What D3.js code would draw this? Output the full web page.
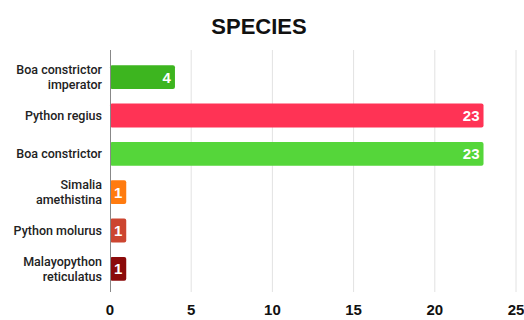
<!DOCTYPE html>
<html>
<head>
<meta charset="utf-8">
<script src="https://cdn.jsdelivr.net/npm/d3@7"></script>
<style>
	body { margin: 0; background: #fff; }
	svg { display: block; font-family: Roboto, 'Liberation Sans', sans-serif; }
</style>
</head>
<body>
<div id="chart"></div>
<script>
// Data
const categories = [
	'Boa constrictor imperator',
	'Python regius',
	'Boa constrictor',
	'Simalia amethistina',
	'Python molurus',
	'Malayopython reticulatus',
];
const labelLines = [
	['Boa constrictor', 'imperator'],
	['Python regius'],
	['Boa constrictor'],
	['Simalia', 'amethistina'],
	['Python molurus'],
	['Malayopython', 'reticulatus'],
];
const values = [4, 23, 23, 1, 1, 1];
const barColors = ['#3db51f', '#ff3355', '#55d63a', '#ff7b0f', '#cc4530', '#8b0a0a'];
const xTicks = [0, 5, 10, 15, 20, 25];

// Attribute
const width = 524;
const height = 320;
const margin = { top: 58, right: 8, bottom: 32, left: 110 };
const lineGap = 14.5;

const svg = d3.select('#chart').append('svg')
	.attr('width', width)
	.attr('height', height);

const x = d3.scaleLinear()
	.domain([0, 25])
	.range([margin.left, 516]);

const y = d3.scaleBand()
	.domain(categories)
	.range([margin.top, height - margin.bottom])
	.paddingInner(0.38)
	.paddingOuter(0.19);

// Title
svg.append('text')
	.attr('x', 259)
	.attr('y', 34)
	.attr('text-anchor', 'middle')
	.attr('font-family', "'Liberation Sans', Arial, sans-serif")
	.attr('font-size', 22)
	.attr('font-weight', 'bold')
	.attr('fill', '#111')
	.text('SPECIES');

// Gridlines
svg.append('g')
	.selectAll('line')
	.data(xTicks.slice(1))
	.join('line')
	.attr('x1', (d) => x(d))
	.attr('x2', (d) => x(d))
	.attr('y1', 50)
	.attr('y2', 292)
	.attr('stroke', '#e2e2e2')
	.attr('stroke-width', 1);

// Bars
svg.append('g')
	.selectAll('rect')
	.data(values)
	.join('rect')
	.attr('x', x(0))
	.attr('y', (d, i) => y(categories[i]))
	.attr('width', (d) => x(d) - x(0))
	.attr('height', y.bandwidth())
	.attr('rx', 2)
	.attr('fill', (d, i) => barColors[i]);

// Value labels
svg.append('g')
	.selectAll('text')
	.data(values)
	.join('text')
	.attr('x', (d) => x(d) - 4)
	.attr('y', (d, i) => y(categories[i]) + y.bandwidth() / 2)
	.attr('dy', '0.36em')
	.attr('text-anchor', 'end')
	.attr('font-family', "'Liberation Sans', Arial, sans-serif")
	.attr('font-size', 15)
	.attr('font-weight', 'bold')
	.attr('fill', '#fff')
	.text((d) => d);

// Axis line
svg.append('line')
	.attr('x1', x(0) + 0.5)
	.attr('x2', x(0) + 0.5)
	.attr('y1', 50)
	.attr('y2', 292)
	.attr('stroke', '#888');

// Category labels
const labels = svg.append('g')
	.selectAll('text')
	.data(labelLines)
	.join('text')
	.attr('text-anchor', 'end')
	.attr('font-size', 12.5)
	.attr('font-weight', 500)
	.attr('fill', '#222')
	.attr('transform', (d, i) => {
		const cy = y(categories[i]) + y.bandwidth() / 2;
		return `translate(${x(0) - 8},${cy - (d.length - 1) * lineGap / 2})`;
	});
labels.selectAll('tspan')
	.data((d) => d)
	.join('tspan')
	.attr('x', 0)
	.attr('dy', (d, i) => (i === 0 ? '0.36em' : lineGap))
	.text((d) => d);

// X tick labels
svg.append('g')
	.selectAll('text')
	.data(xTicks)
	.join('text')
	.attr('x', (d) => x(d))
	.attr('y', 315)
	.attr('text-anchor', 'middle')
	.attr('font-family', "'Liberation Sans', Arial, sans-serif")
	.attr('font-size', 15)
	.attr('font-weight', 'bold')
	.attr('fill', '#111')
	.text((d) => d);
</script>
</body>
</html>
